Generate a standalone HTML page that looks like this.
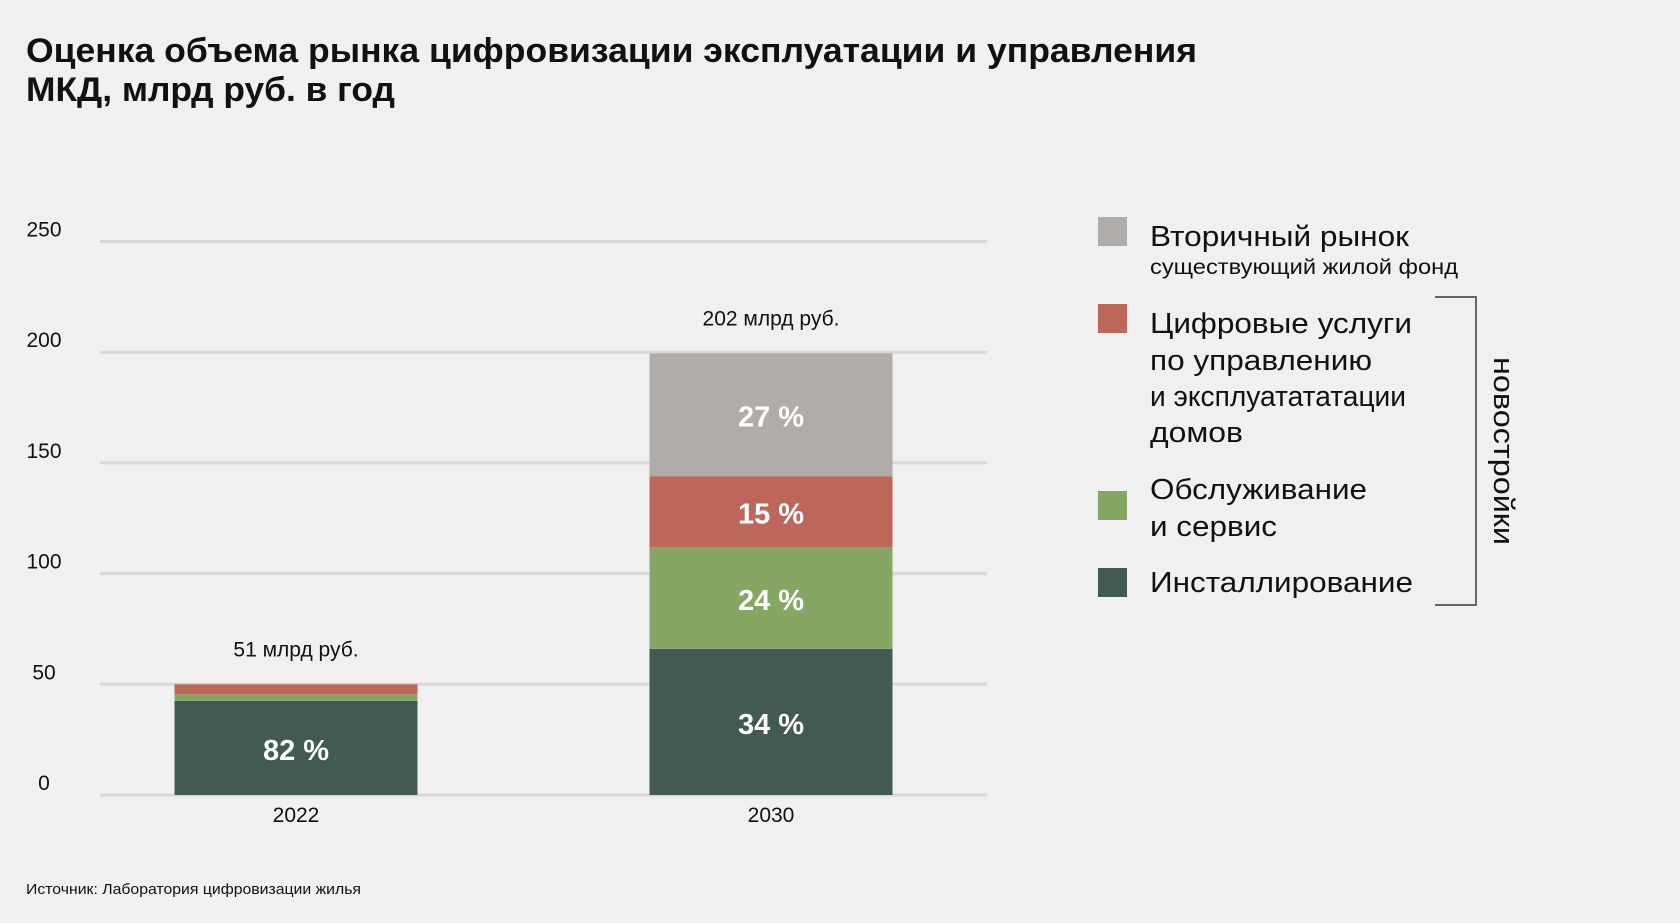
<!DOCTYPE html>
<html><head><meta charset="utf-8"><style>
html,body{margin:0;padding:0;background:#f0f0f0;}
svg{display:block;font-family:"Liberation Sans",sans-serif;}
</style></head><body>
<svg id="chart" width="1680" height="923" viewBox="0 0 1680 923" xmlns="http://www.w3.org/2000/svg">
<rect x="0" y="0" width="1680" height="923" fill="#f0f0f0"/>
<text x="26" y="62" font-size="34" font-weight="bold" fill="#111" textLength="1171" lengthAdjust="spacingAndGlyphs">Оценка объема рынка цифровизации эксплуатации и управления</text>
<text x="26" y="101" font-size="34" font-weight="bold" fill="#111" textLength="369" lengthAdjust="spacingAndGlyphs">МКД, млрд руб. в год</text>
<g id="grid"></g>
<g id="bars"></g>
<g id="legend">
<rect x="1098" y="217" width="29" height="29" fill="#b0acaa"/>
<text x="1150" y="246" font-size="29" fill="#111" textLength="259" lengthAdjust="spacingAndGlyphs">Вторичный рынок</text>
<text x="1150" y="274" font-size="21" fill="#111" textLength="308" lengthAdjust="spacingAndGlyphs">существующий жилой фонд</text>
<rect x="1098" y="304" width="29" height="29" fill="#bd675a"/>
<text font-size="29" fill="#111">
<tspan x="1150" y="333" textLength="262" lengthAdjust="spacingAndGlyphs">Цифровые услуги</tspan>
<tspan x="1150" y="370" textLength="222" lengthAdjust="spacingAndGlyphs">по управлению</tspan>
<tspan x="1150" y="406" textLength="256" lengthAdjust="spacingAndGlyphs">и эксплуатататации</tspan>
<tspan x="1150" y="442" textLength="93" lengthAdjust="spacingAndGlyphs">домов</tspan>
</text>
<rect x="1098" y="491" width="29" height="29" fill="#86a763"/>
<text font-size="29" fill="#111">
<tspan x="1150" y="499" textLength="217" lengthAdjust="spacingAndGlyphs">Обслуживание</tspan>
<tspan x="1150" y="536" textLength="127" lengthAdjust="spacingAndGlyphs">и сервис</tspan>
</text>
<rect x="1098" y="568" width="29" height="29" fill="#435953"/>
<text x="1150" y="592" font-size="29" fill="#111" textLength="263" lengthAdjust="spacingAndGlyphs">Инсталлирование</text>
<path d="M1435 297 H1476 V605 H1435" fill="none" stroke="#666" stroke-width="2"/>
<text transform="translate(1494,451) rotate(90)" text-anchor="middle" font-size="29" fill="#111" textLength="188" lengthAdjust="spacingAndGlyphs">новостройки</text>
</g>
<text x="26" y="894" font-size="15" fill="#111" textLength="335" lengthAdjust="spacingAndGlyphs">Источник: Лаборатория цифровизации жилья</text>
</svg>
<script>
const categories = ["2022", "2030"];
const installValues = [42.5, 66];
const serviceValues = [3, 46];
const digitalValues = [4.5, 32];
const secondaryValues = [0, 55.5];
const installPct = ["82 %", "34 %"];
const servicePct = ["", "24 %"];
const digitalPct = ["", "15 %"];
const secondaryPct = ["", "27 %"];
const totalLabels = ["51 млрд руб.", "202 млрд руб."];
const yTicks = [0, 50, 100, 150, 200, 250];

const NS = "http://www.w3.org/2000/svg";
const y0 = 795, yPer = (795 - 241.5) / 250;
const y = v => y0 - v * yPer;
const barW = 243;
const xCenter = i => 296 + i * 475;
function mk(tag, attrs, parent) {
  const e = document.createElementNS(NS, tag);
  for (const k in attrs) e.setAttribute(k, attrs[k]);
  parent.appendChild(e);
  return e;
}
const grid = document.getElementById('grid');
yTicks.forEach(t => {
  const l = mk('line', {x1: 100, x2: 987, y1: y(t), y2: y(t), stroke: '#d8d8d8', 'stroke-width': 3}, grid);
  
  
  const tx = mk('text', {x: 44, y: y(t) - 5, 'text-anchor': 'middle', 'font-size': 21, fill: '#111'}, grid);
  tx.textContent = t;
  
  
});
const bars = document.getElementById('bars');
const series = [
  {name: 'install', vals: installValues, pct: installPct, color: '#435953'},
  {name: 'service', vals: serviceValues, pct: servicePct, color: '#86a763'},
  {name: 'digital', vals: digitalValues, pct: digitalPct, color: '#bd675a'},
  {name: 'secondary', vals: secondaryValues, pct: secondaryPct, color: '#b0acaa'}
];
categories.forEach((c, i) => {
  let acc = 0;
  series.forEach(s => {
    const v = s.vals[i];
    if (v > 0) {
      const r = mk('rect', {x: xCenter(i) - barW / 2, y: y(acc + v), width: barW, height: v * yPer, fill: s.color}, bars);
      
      
      if (s.pct[i]) {
        const t = mk('text', {x: xCenter(i), y: y(acc + v / 2) + 12, 'text-anchor': 'middle', 'font-size': 29, 'font-weight': 'bold', fill: '#fff'}, bars);
        t.textContent = s.pct[i];
        
        
      }
    }
    acc += v;
  });
  const tot = mk('text', {x: xCenter(i), y: y(acc) - 28, 'text-anchor': 'middle', 'font-size': 21, fill: '#111'}, bars);
  tot.textContent = totalLabels[i];
  
  
  const xl = mk('text', {x: xCenter(i), y: 822, 'text-anchor': 'middle', 'font-size': 21, fill: '#111'}, bars);
  xl.textContent = c;
  
  
});
</script>
</body></html>
